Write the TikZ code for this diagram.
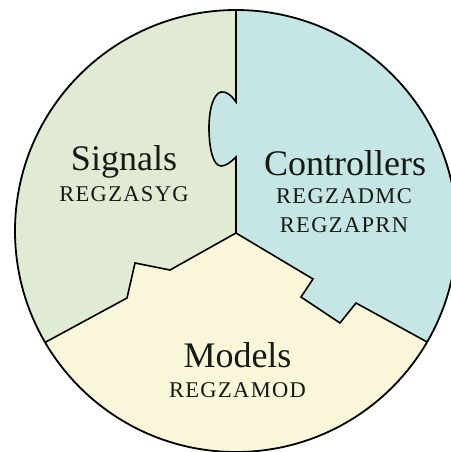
\documentclass[tikz,border=0pt]{standalone}
\usepackage{fontspec}
\setmainfont{Liberation Serif}
\newfontfamily\codefont[LetterSpace=6]{Liberation Serif}
\definecolor{sigfill}{HTML}{E1EBD4}
\definecolor{ctlfill}{HTML}{C5E6E4}
\definecolor{modfill}{HTML}{FAF6D9}
\definecolor{inkcol}{HTML}{151A15}
\begin{document}
\begin{tikzpicture}[x=1pt,y=-1pt,
  title/.style={font=\fontsize{36}{40}\selectfont, text=inkcol, anchor=base, inner sep=0pt},
  code/.style={font=\codefont\fontsize{22.5}{26}\selectfont, text=inkcol, anchor=base, inner sep=0pt},
  border/.style={line width=1.6pt, line join=miter, draw=black}]
\useasboundingbox (0,0) rectangle (450,452);
\fill[white] (0,0) rectangle (450,452);

% key points of the three-way split
\coordinate (hub) at (236,233);
\coordinate (top) at (236,-10);
\coordinate (tabA) at (236,102);
\coordinate (tabB) at (236,157);
\coordinate (l1) at (170,270);
\coordinate (l2) at (135,263);
\coordinate (l3) at (127,298);
\coordinate (lend) at (20,356);
\coordinate (r1) at (313,279);
\coordinate (r2) at (301,297);
\coordinate (r3) at (340,323);
\coordinate (r4) at (356,303);
\coordinate (rend) at (480,371);

\begin{scope}
  \clip (236,231) circle (221pt);
  % Models sector (background of the disc)
  \fill[modfill] (-10,-10) rectangle (480,480);
  % Signals sector
  \fill[sigfill] (hub) -- (l1) -- (l2) -- (l3) -- (lend) -- (-10,356) -- (-10,-10) -- (top) -- (tabA)
    .. controls (231,95) and (226,91) .. (221,92)
    .. controls (213,94) and (209,110) .. (209,128)
    .. controls (209,148) and (213,166) .. (221,166)
    .. controls (226,166) and (231,162) .. (tabB) -- cycle;
  % Controllers sector, with its puzzle tab
  \fill[ctlfill] (hub) -- (tabB)
    .. controls (231,162) and (226,166) .. (221,166)
    .. controls (213,166) and (209,148) .. (209,128)
    .. controls (209,110) and (213,94) .. (221,92)
    .. controls (226,91) and (231,95) .. (tabA)
    -- (top) -- (480,-10) -- (rend) -- (r4) -- (r3) -- (r2) -- (r1) -- cycle;
  % dividing edges
  \draw[border] (top) -- (tabA)
    .. controls (231,95) and (226,91) .. (221,92)
    .. controls (213,94) and (209,110) .. (209,128)
    .. controls (209,148) and (213,166) .. (221,166)
    .. controls (226,166) and (231,162) .. (tabB) -- (hub);
  \draw[border] (hub) -- (l1) -- (l2) -- (l3) -- (lend);
  \draw[border] (hub) -- (r1) -- (r2) -- (r3) -- (r4) -- (rend);
\end{scope}
\draw[line width=1.8pt] (236,231) circle (221pt);

% labels
\node[title] (sig) at (124,170) {Signals};
\node[code] (sigc) at (124,201) {REGZASYG};
\node[title] (ctl) at (345,175) {Controllers};
\node[code] (ctlc1) at (344,203) {REGZADMC};
\node[code] (ctlc2) at (344,232) {REGZAPRN};
\node[title] (mod) at (237.5,367) {Models};
\node[code] (modc) at (237.5,397) {REGZAMOD};
\end{tikzpicture}
\end{document}
